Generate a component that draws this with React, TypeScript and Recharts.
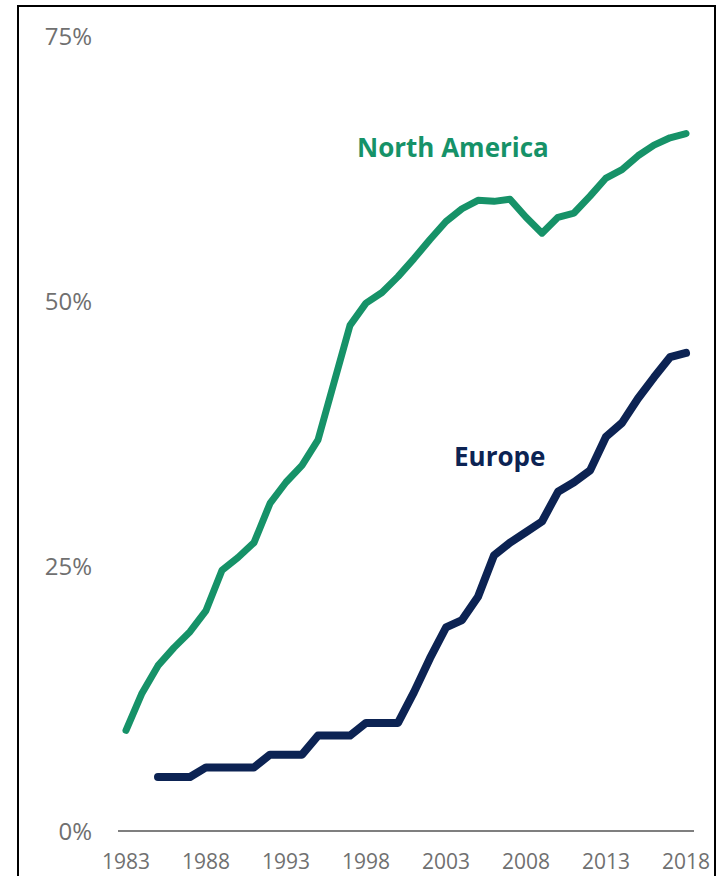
import { LineChart, Line, XAxis, YAxis } from "recharts";

const years = [
  1983, 1984, 1985, 1986, 1987, 1988, 1989, 1990, 1991, 1992, 1993, 1994,
  1995, 1996, 1997, 1998, 1999, 2000, 2001, 2002, 2003, 2004, 2005, 2006,
  2007, 2008, 2009, 2010, 2011, 2012, 2013, 2014, 2015, 2016, 2017, 2018,
];

const northAmerica = [
  9.5, 13.0, 15.6, 17.3, 18.8, 20.8, 24.6, 25.8, 27.2, 30.9, 32.9, 34.5,
  36.9, 42.3, 47.7, 49.8, 50.8, 52.3, 54.0, 55.8, 57.5, 58.7, 59.5, 59.4,
  59.6, 57.9, 56.4, 57.9, 58.3, 59.9, 61.6, 62.4, 63.7, 64.7, 65.4, 65.8,
];

const europe: (number | null)[] = [
  null, null, 5.1, 5.1, 5.1, 6.0, 6.0, 6.0, 6.0, 7.2, 7.2, 7.2,
  9.0, 9.0, 9.0, 10.2, 10.2, 10.2, 13.1, 16.3, 19.2, 19.9, 22.1, 26.0,
  27.2, 28.2, 29.2, 32.0, 32.9, 34.0, 37.2, 38.5, 40.8, 42.8, 44.7, 45.1,
];

const xTicks = [1983, 1988, 1993, 1998, 2003, 2008, 2013, 2018];
const yTicks = [0, 25, 50, 75];

const data = years.map((year, i) => ({
  year,
  northAmerica: northAmerica[i],
  europe: europe[i],
}));

const GREEN = "#169268";
const NAVY = "#0c2353";
const FONT = "'Open Sans', sans-serif";

export default function App() {
  return (
    <div style={{ position: "absolute", left: 0, top: 0, width: 717, height: 876, overflow: "hidden", background: "#fff" }}>
      <div
        style={{
          position: "absolute",
          left: 17,
          top: 5,
          width: 695,
          height: 900,
          border: "2px solid #000",
        }}
      />
      <LineChart
        width={717}
        height={876}
        data={data}
        margin={{ top: 36, right: 23, bottom: 15, left: 0 }}
        style={{ position: "absolute", left: 0, top: 0 }}
      >
        <XAxis
          dataKey="year"
          type="number"
          domain={[1982.5, 2018.5]}
          ticks={xTicks}
          interval={0}
          height={30}
          tickLine={false}
          tickSize={0}
          tickMargin={23}
          axisLine={{ stroke: "#7f7f7f", strokeWidth: 2 }}
          tick={{ fill: "#707070", fontSize: 21, fontFamily: FONT }}
        />
        <YAxis
          type="number"
          domain={[0, 75]}
          ticks={yTicks}
          interval={0}
          width={118}
          axisLine={false}
          tickLine={false}
          tickSize={0}
          tickMargin={26}
          tickFormatter={(v: number) => `${v}%`}
          tick={{ fill: "#707070", fontSize: 24, fontFamily: FONT }}
        />
        <Line
          type="linear"
          dataKey="northAmerica"
          stroke={GREEN}
          strokeWidth={7}
          strokeLinecap="round"
          strokeLinejoin="round"
          dot={false}
          activeDot={false}
          isAnimationActive={false}
        />
        <Line
          type="linear"
          dataKey="europe"
          stroke={NAVY}
          strokeWidth={8}
          strokeLinecap="round"
          strokeLinejoin="round"
          dot={false}
          activeDot={false}
          isAnimationActive={false}
        />
      </LineChart>
      <svg width={717} height={876} style={{ position: "absolute", left: 0, top: 0, pointerEvents: "none" }}>
        <text x={357} y={157} fill={GREEN} fontSize={26} fontWeight={700} fontFamily={FONT}>
          North America
        </text>
        <text x={454} y={466} fill={NAVY} fontSize={26} fontWeight={700} fontFamily={FONT}>
          Europe
        </text>
      </svg>
    </div>
  );
}
